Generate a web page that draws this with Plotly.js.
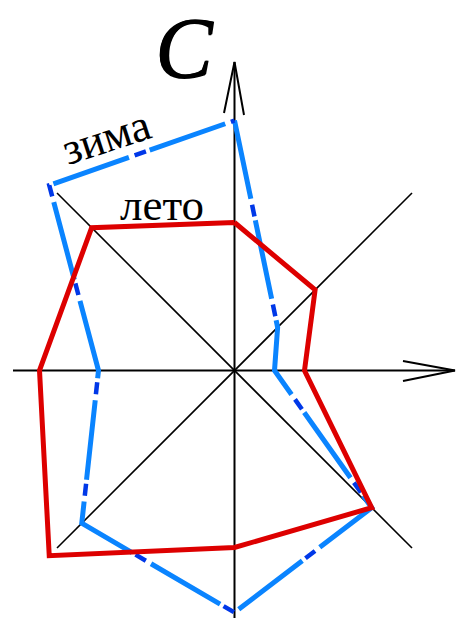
<!DOCTYPE html>
<html>
<head>
<meta charset="utf-8">
<script src="https://cdn.plot.ly/plotly-3.0.1.min.js"></script>
<style>
  html, body { margin: 0; padding: 0; background: #fff; }
  #chart { width: 459px; height: 618px; }
</style>
</head>
<body>
<div id="chart"></div>
<script>
// Wind rose: directions clockwise from north, values in chart units
const directions = ['С', 'СВ', 'В', 'ЮВ', 'Ю', 'ЮЗ', 'З', 'СЗ'];
const angles = [0, 45, 90, 135, 180, 225, 270, 315];
const summer = [148, 114, 70, 194, 177, 262, 195, 202];   // лето
const winter = [250, 61, 40, 194, 242, 216, 136, 262];    // зима

const axisLen = 251;   // length of the diagonal rays

function toXY(values) {
    const x = [], y = [];
    values.forEach((r, i) => {
        const a = angles[i] * Math.PI / 180;
        x.push(r * Math.sin(a));
        y.push(r * Math.cos(a));
    });
    // close the polygon
    x.push(x[0]);
    y.push(y[0]);
    return { x, y };
}

const s = toXY(summer);
const w = toXY(winter);

const traces = [
    {
        x: w.x, y: w.y, name: 'зима', type: 'scatter', mode: 'lines',
        line: { color: '#0a84ff', width: 5, dash: '80px,22px' },
        hoverinfo: 'skip'
    },
    {
        // darker short strokes sitting in some of the gaps
        x: w.x, y: w.y, name: 'зима-dots', type: 'scatter', mode: 'lines',
        line: { color: '#0038e8', width: 4.5, dash: '0px,86px,12px,4px' },
        hoverinfo: 'skip'
    },
    {
        x: s.x, y: s.y, name: 'лето', type: 'scatter', mode: 'lines',
        line: { color: '#dd0000', width: 5 },
        hoverinfo: 'skip'
    }
];

const d = axisLen / Math.SQRT2;
const axisLine = { color: '#000', width: 2 };
const diagLine = { color: '#000', width: 1.6 };
const shapes = [
    // main axes
    { type: 'line', x0: -221.5, y0: 0, x1: 220.5, y1: 0, line: axisLine, layer: 'below' },
    { type: 'line', x0: 0, y0: -250, x1: 0, y1: 308.5, line: axisLine, layer: 'below' },
    // diagonals
    { type: 'line', x0: -d, y0: d, x1: d, y1: -d, line: diagLine, layer: 'below' },
    { type: 'line', x0: -d, y0: -d, x1: d, y1: d, line: diagLine, layer: 'below' },
    // open arrow heads
    { type: 'path', path: 'M -10.5,257.5 L 0,308.5 L 9.5,255.5', line: axisLine, layer: 'below' },
    { type: 'path', path: 'M 168.5,9.5 L 220.5,0 L 168.5,-10.5', line: axisLine, layer: 'below' }
];

const serif = '"Liberation Serif", "DejaVu Serif", serif';
const annotations = [
    {
        x: -50.5, y: 323, text: '<i>С</i>', showarrow: false,
        // slight shadow to thicken the strokes like the original heavy letter
        font: { family: serif, size: 86, color: '#000', shadow: '1px 0px 0px #000, 0px 1px 0px #000' }
    },
    {
        x: -73, y: 166, text: 'лето', showarrow: false,
        font: { family: serif, size: 45, color: '#000' }
    },
    {
        x: -128.5, y: 234, text: 'зима', showarrow: false, textangle: -18,
        font: { family: serif, size: 45, color: '#000' }
    }
];

const layout = {
    width: 459,
    height: 618,
    margin: { l: 0, r: 0, t: 0, b: 0, pad: 0 },
    paper_bgcolor: '#fff',
    plot_bgcolor: '#fff',
    showlegend: false,
    xaxis: { range: [-234.5, 224.5], visible: false, fixedrange: true },
    yaxis: { range: [-247.5, 370.5], visible: false, fixedrange: true },
    shapes: shapes,
    annotations: annotations
};

Plotly.newPlot('chart', traces, layout, { displayModeBar: false, staticPlot: true });
</script>
</body>
</html>
